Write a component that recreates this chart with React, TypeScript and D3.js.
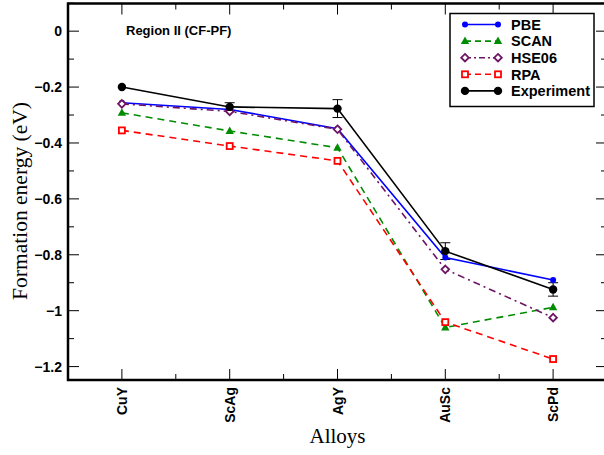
import React from "react";
import * as d3 from "d3";

const categories = ["CuY", "ScAg", "AgY", "AuSc", "ScPd"];
const pbe = [-0.256, -0.28, -0.349, -0.81, -0.89];
const scan = [-0.292, -0.357, -0.417, -1.06, -0.988];
const hse06 = [-0.26, -0.287, -0.351, -0.852, -1.025];
const rpa = [-0.355, -0.411, -0.464, -1.041, -1.173];
const experiment = [-0.2, -0.271, -0.277, -0.787, -0.924];
const expError = [0, 0.015, 0.032, 0.03, 0.024];
const yTicks = [0, -0.2, -0.4, -0.6, -0.8, -1, -1.2];
const yMinor = [0.1, -0.1, -0.3, -0.5, -0.7, -0.9, -1.1];

const W = 604, H = 455;
const L = 68, R = 607, T = 3.5, B = 380;

type Series = { name: string; values: number[]; color: string; dash: string; marker: string };

const series: Series[] = [
  { name: "PBE", values: pbe, color: "#0000ff", dash: "", marker: "circleSmall" },
  { name: "SCAN", values: scan, color: "#008c00", dash: "7,5", marker: "triangle" },
  { name: "HSE06", values: hse06, color: "#6e1464", dash: "7,4,2,4", marker: "diamond" },
  { name: "RPA", values: rpa, color: "#ff0000", dash: "7,5", marker: "square" },
  { name: "Experiment", values: experiment, color: "#000000", dash: "", marker: "circle" },
];

function Marker({ type, x, y, color }: { type: string; x: number; y: number; color: string }) {
  if (type === "circleSmall") return <circle cx={x} cy={y} r={3} fill={color} />;
  if (type === "circle") return <circle cx={x} cy={y} r={4.2} fill={color} />;
  if (type === "triangle")
    return <path d={`M${x},${y - 4.5}L${x + 4.2},${y + 3}L${x - 4.2},${y + 3}Z`} fill={color} />;
  if (type === "diamond")
    return <path d={`M${x},${y - 3.8}L${x + 3.8},${y}L${x},${y + 3.8}L${x - 3.8},${y}Z`} fill="white" stroke={color} strokeWidth={1.8} />;
  if (type === "square")
    return <rect x={x - 3} y={y - 3} width={6} height={6} fill="white" stroke={color} strokeWidth={1.8} />;
  return null;
}

export default function App() {
  const x = d3.scaleLinear().domain([-0.5, 4.5]).range([L, R]);
  const y = d3.scaleLinear().domain([-1.248, 0.099]).range([B, T]);
  const line = d3.line<number>().x((_, i) => x(i)).y((d) => y(d));
  const sans = "'Liberation Sans', Arial, sans-serif";
  const serif = "'Liberation Serif', 'Times New Roman', serif";
  const xMinor = [0.5, 1.5, 2.5, 3.5];

  return (
    <svg width={W} height={H} style={{ position: "absolute", left: 0, top: 0, background: "white" }}>
      <rect width={W} height={H} fill="white" />
      <g stroke="#000" strokeWidth={1}>
        {yTicks.map((t) => (
          <g key={"yt" + t}>
            <line x1={L} x2={L + 11} y1={y(t)} y2={y(t)} />
            <line x1={R} x2={R - 11} y1={y(t)} y2={y(t)} />
          </g>
        ))}
        {yMinor.map((t) => (
          <g key={"ym" + t}>
            <line x1={L} x2={L + 6} y1={y(t)} y2={y(t)} />
            <line x1={R} x2={R - 6} y1={y(t)} y2={y(t)} />
          </g>
        ))}
        {categories.map((c, i) => (
          <g key={"xt" + c}>
            <line x1={x(i)} x2={x(i)} y1={B} y2={B - 11} />
            <line x1={x(i)} x2={x(i)} y1={T} y2={T + 11} />
          </g>
        ))}
        {xMinor.map((t) => (
          <g key={"xm" + t}>
            <line x1={x(t)} x2={x(t)} y1={B} y2={B - 6} />
            <line x1={x(t)} x2={x(t)} y1={T} y2={T + 6} />
          </g>
        ))}
      </g>
      <rect x={L} y={T} width={R - L} height={B - T} fill="none" stroke="#000" strokeWidth={2.5} />
      {yTicks.map((t) => (
        <text key={"yl" + t} x={L - 6} y={y(t)} dy="0.36em" textAnchor="end" fontFamily={sans} fontWeight="bold" fontSize={14}>
          {d3.format("")(Math.round(t * 10) / 10)}
        </text>
      ))}
      {categories.map((c, i) => (
        <text key={"xl" + c} transform={`translate(${x(i) + 5},${B + 7}) rotate(-90)`} textAnchor="end" fontFamily={sans} fontWeight="bold" fontSize={14}>
          {c}
        </text>
      ))}
      <text x={x(2)} y={443} textAnchor="middle" fontFamily={serif} fontSize={21}>Alloys</text>
      <text transform={`translate(27,201) rotate(-90)`} textAnchor="middle" fontFamily={serif} fontSize={21.5}>Formation energy (eV)</text>
      <text x={126} y={35} fontFamily={sans} fontWeight="bold" fontSize={13}>Region II (CF-PF)</text>
      <g stroke="#000" strokeWidth={1}>
        {experiment.map((v, i) =>
          expError[i] > 0 ? (
            <g key={"eb" + i}>
              <line x1={x(i)} x2={x(i)} y1={y(v + expError[i])} y2={y(v - expError[i])} />
              <line x1={x(i) - 5} x2={x(i) + 5} y1={y(v + expError[i])} y2={y(v + expError[i])} />
              <line x1={x(i) - 5} x2={x(i) + 5} y1={y(v - expError[i])} y2={y(v - expError[i])} />
            </g>
          ) : null
        )}
      </g>
      {series.map((s) => (
        <path key={s.name} d={line(s.values) || ""} fill="none" stroke={s.color} strokeWidth={1.6} strokeDasharray={s.dash} />
      ))}
      {series.map((s) =>
        s.values.map((v, i) => <Marker key={s.name + i} type={s.marker} x={x(i)} y={y(v)} color={s.color} />)
      )}
      <rect x={450} y={13.5} width={144} height={93} fill="white" stroke="#000" strokeWidth={1.5} />
      {series.map((s, k) => {
        const ly = 24.5 + k * 16.6;
        return (
          <g key={"lg" + s.name}>
            <line x1={465} x2={498} y1={ly} y2={ly} stroke={s.color} strokeWidth={1.6} strokeDasharray={s.dash ? (s.name === "HSE06" ? "6,3,2,3" : "6,4") : ""} />
            <Marker type={s.marker} x={465} y={ly} color={s.color} />
            <Marker type={s.marker} x={498} y={ly} color={s.color} />
            <text x={511} y={ly} dy="0.36em" fontFamily={sans} fontWeight="bold" fontSize={14.5}>{s.name}</text>
          </g>
        );
      })}
    </svg>
  );
}
